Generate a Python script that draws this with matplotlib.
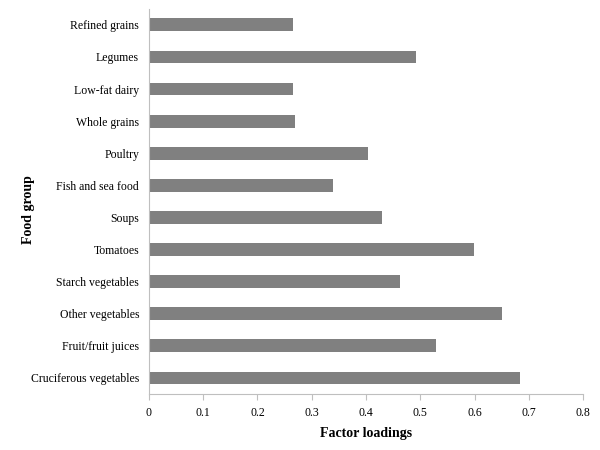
import matplotlib
matplotlib.use("Agg")
import matplotlib.pyplot as plt

food_groups = [
    "Cruciferous vegetables",
    "Fruit/fruit juices",
    "Other vegetables",
    "Starch vegetables",
    "Tomatoes",
    "Soups",
    "Fish and sea food",
    "Poultry",
    "Whole grains",
    "Low-fat dairy",
    "Legumes",
    "Refined grains",
]
loadings = [0.683, 0.529, 0.650, 0.463, 0.598, 0.430, 0.340, 0.404, 0.269, 0.265, 0.493, 0.265]
x_ticks = [0, 0.1, 0.2, 0.3, 0.4, 0.5, 0.6, 0.7, 0.8]

plt.rcParams["font.family"] = ["Liberation Serif", "DejaVu Serif"]

fig = plt.figure(figsize=(6, 4.5), dpi=100)
ax = fig.add_axes([0.248, 0.1244, 0.724, 0.856])

ax.barh(range(len(food_groups)), loadings, height=0.4, color="#808080")

ax.set_xlim(0, 0.8)
ax.set_ylim(-0.5, len(food_groups) - 0.5)
ax.set_xticks(x_ticks)
ax.set_xticklabels([str(t) if t else "0" for t in x_ticks], fontsize=8.5)
ax.set_yticks(range(len(food_groups)))
ax.set_yticklabels(food_groups, fontsize=8.5)

ax.spines["top"].set_visible(False)
ax.spines["right"].set_visible(False)
ax.spines["left"].set_color("#bfbfbf")
ax.spines["bottom"].set_color("#bfbfbf")
ax.tick_params(axis="y", length=0, pad=7)
ax.tick_params(axis="x", length=4, color="#bfbfbf", pad=5)

ax.set_xlabel("Factor loadings", fontsize=10, fontweight="bold")
ax.xaxis.set_label_coords(0.5, -0.086)
ax.set_ylabel("Food group", fontsize=10, fontweight="bold")
ax.yaxis.set_label_coords(-0.262, 0.48)

fig.savefig("out.png", dpi=100)
